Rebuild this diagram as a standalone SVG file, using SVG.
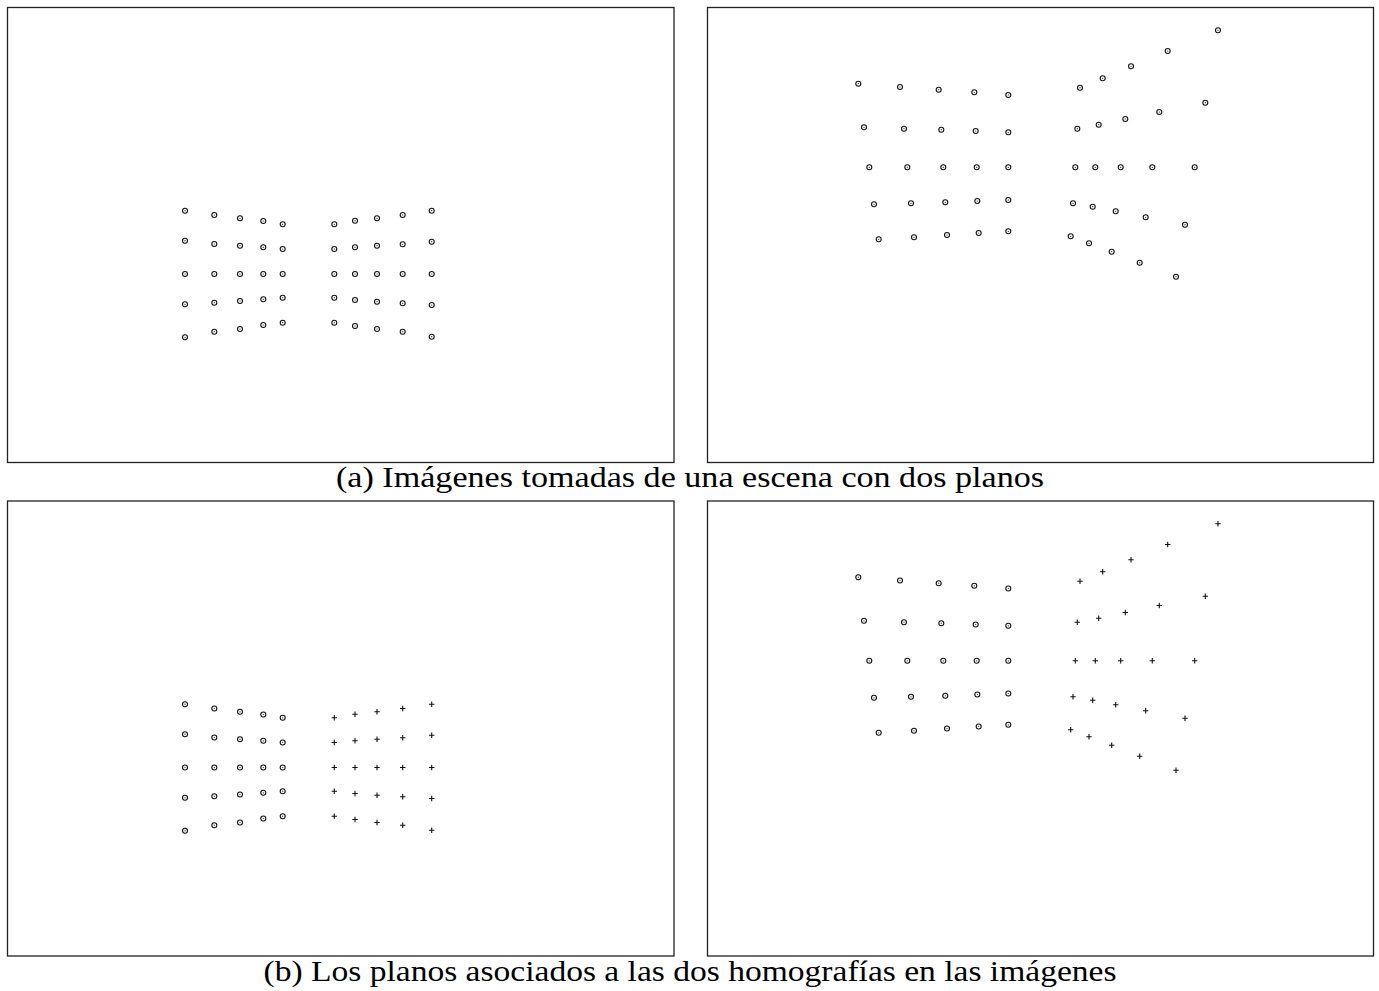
<svg xmlns="http://www.w3.org/2000/svg" xmlns:xlink="http://www.w3.org/1999/xlink" width="1379" height="991" viewBox="0 0 1379 991">
<style>
.frame{fill:none;stroke:#222;stroke-width:1.3}
</style>
<defs>
<g id="c"><circle r="2.5" fill="none" stroke="#111" stroke-width="1.1"/><circle r="0.6" fill="#111"/></g>
<path id="p" d="M-2.7 0H2.7M0 -2.7V2.7" stroke="#111" stroke-width="1.1" fill="none"/>
</defs>
<rect width="1379" height="991" fill="#fff"/>
<g id="panel-a-left">
<rect class="frame" x="7.5" y="7.5" width="666.5" height="455"/>
<g id="a-left-plane1">
<use href="#c" x="185" y="210.7"/><use href="#c" x="214.3" y="215"/><use href="#c" x="240" y="218.3"/><use href="#c" x="263.3" y="221"/><use href="#c" x="282.7" y="224.3"/>
<use href="#c" x="185" y="240.7"/><use href="#c" x="214.3" y="244"/><use href="#c" x="240" y="245.7"/><use href="#c" x="263.3" y="247.3"/><use href="#c" x="282.7" y="249"/>
<use href="#c" x="185" y="274"/><use href="#c" x="214.3" y="274"/><use href="#c" x="240" y="274"/><use href="#c" x="263.3" y="274"/><use href="#c" x="282.7" y="274"/>
<use href="#c" x="185" y="304.3"/><use href="#c" x="214.3" y="302.7"/><use href="#c" x="240" y="301"/><use href="#c" x="263.3" y="299.3"/><use href="#c" x="282.7" y="297.7"/>
<use href="#c" x="185" y="337.3"/><use href="#c" x="214.3" y="331.7"/><use href="#c" x="240" y="329"/><use href="#c" x="263.3" y="325"/><use href="#c" x="282.7" y="322.7"/>
</g>
<g id="a-left-plane2">
<use href="#c" x="334.3" y="224.3"/><use href="#c" x="355" y="220.7"/><use href="#c" x="377" y="218.3"/><use href="#c" x="402.7" y="215"/><use href="#c" x="431.7" y="210.7"/>
<use href="#c" x="334.3" y="249"/><use href="#c" x="355" y="247.3"/><use href="#c" x="377" y="245.7"/><use href="#c" x="402.7" y="244.3"/><use href="#c" x="431.7" y="241.7"/>
<use href="#c" x="334.3" y="274"/><use href="#c" x="355" y="274"/><use href="#c" x="377" y="274"/><use href="#c" x="402.7" y="274"/><use href="#c" x="431.7" y="274"/>
<use href="#c" x="334.3" y="297.7"/><use href="#c" x="355" y="300"/><use href="#c" x="377" y="301.7"/><use href="#c" x="402.7" y="303.3"/><use href="#c" x="431.7" y="305"/>
<use href="#c" x="334.3" y="322.7"/><use href="#c" x="355" y="326"/><use href="#c" x="377" y="329"/><use href="#c" x="402.7" y="331.7"/><use href="#c" x="431.7" y="336.7"/>
</g>
</g>
<g id="panel-a-right">
<rect class="frame" x="707.5" y="7.5" width="666" height="455"/>
<g id="a-right-plane1">
<use href="#c" x="858.3" y="83.7"/><use href="#c" x="900" y="87"/><use href="#c" x="938.7" y="89.7"/><use href="#c" x="974.3" y="92.3"/><use href="#c" x="1008.3" y="95"/>
<use href="#c" x="864" y="127.3"/><use href="#c" x="904" y="128.7"/><use href="#c" x="941.3" y="129.7"/><use href="#c" x="975.7" y="131"/><use href="#c" x="1008.3" y="132.3"/>
<use href="#c" x="869.3" y="167.3"/><use href="#c" x="907.3" y="167.3"/><use href="#c" x="943.3" y="167.3"/><use href="#c" x="976.7" y="167.3"/><use href="#c" x="1008.3" y="167.3"/>
<use href="#c" x="874" y="204.3"/><use href="#c" x="911" y="203.3"/><use href="#c" x="945.3" y="202.3"/><use href="#c" x="977.3" y="201"/><use href="#c" x="1008.3" y="200"/>
<use href="#c" x="878.7" y="239.3"/><use href="#c" x="914" y="237.3"/><use href="#c" x="947" y="235"/><use href="#c" x="978.7" y="233"/><use href="#c" x="1008.3" y="231.3"/>
</g>
<g id="a-right-plane2">
<use href="#c" x="1080" y="87.7"/><use href="#c" x="1102.7" y="78.3"/><use href="#c" x="1131" y="66.3"/><use href="#c" x="1167.7" y="51"/><use href="#c" x="1218" y="30.3"/>
<use href="#c" x="1077.3" y="128.7"/><use href="#c" x="1098.7" y="124.7"/><use href="#c" x="1125.3" y="119"/><use href="#c" x="1159.3" y="112"/><use href="#c" x="1205.3" y="102.7"/>
<use href="#c" x="1075.3" y="167.3"/><use href="#c" x="1095.3" y="167.3"/><use href="#c" x="1120.7" y="167.3"/><use href="#c" x="1152.3" y="167.3"/><use href="#c" x="1194.7" y="167.3"/>
<use href="#c" x="1073" y="203.3"/><use href="#c" x="1092.7" y="206.7"/><use href="#c" x="1115.7" y="211.3"/><use href="#c" x="1145.7" y="217.3"/><use href="#c" x="1185" y="224.7"/>
<use href="#c" x="1070.7" y="236.3"/><use href="#c" x="1089" y="243.3"/><use href="#c" x="1111.7" y="251.7"/><use href="#c" x="1139.7" y="262.7"/><use href="#c" x="1176" y="276.7"/>
</g>
</g>
<text id="caption-a" font-family="'Liberation Serif', 'Times New Roman', serif" font-size="30" fill="#000" x="690" y="487" text-anchor="middle" textLength="708" lengthAdjust="spacingAndGlyphs">(a) Imágenes tomadas de una escena con dos planos</text>
<g id="panel-b-left">
<rect class="frame" x="7.5" y="501" width="666.5" height="455"/>
<g id="b-left-plane1" transform="translate(0,493.5)">
<use href="#c" x="185" y="210.7"/><use href="#c" x="214.3" y="215"/><use href="#c" x="240" y="218.3"/><use href="#c" x="263.3" y="221"/><use href="#c" x="282.7" y="224.3"/>
<use href="#c" x="185" y="240.7"/><use href="#c" x="214.3" y="244"/><use href="#c" x="240" y="245.7"/><use href="#c" x="263.3" y="247.3"/><use href="#c" x="282.7" y="249"/>
<use href="#c" x="185" y="274"/><use href="#c" x="214.3" y="274"/><use href="#c" x="240" y="274"/><use href="#c" x="263.3" y="274"/><use href="#c" x="282.7" y="274"/>
<use href="#c" x="185" y="304.3"/><use href="#c" x="214.3" y="302.7"/><use href="#c" x="240" y="301"/><use href="#c" x="263.3" y="299.3"/><use href="#c" x="282.7" y="297.7"/>
<use href="#c" x="185" y="337.3"/><use href="#c" x="214.3" y="331.7"/><use href="#c" x="240" y="329"/><use href="#c" x="263.3" y="325"/><use href="#c" x="282.7" y="322.7"/>
</g>
<g id="b-left-plane2" transform="translate(0,493.5)">
<use href="#p" x="334.3" y="224.3"/><use href="#p" x="355" y="220.7"/><use href="#p" x="377" y="218.3"/><use href="#p" x="402.7" y="215"/><use href="#p" x="431.7" y="210.7"/>
<use href="#p" x="334.3" y="249"/><use href="#p" x="355" y="247.3"/><use href="#p" x="377" y="245.7"/><use href="#p" x="402.7" y="244.3"/><use href="#p" x="431.7" y="241.7"/>
<use href="#p" x="334.3" y="274"/><use href="#p" x="355" y="274"/><use href="#p" x="377" y="274"/><use href="#p" x="402.7" y="274"/><use href="#p" x="431.7" y="274"/>
<use href="#p" x="334.3" y="297.7"/><use href="#p" x="355" y="300"/><use href="#p" x="377" y="301.7"/><use href="#p" x="402.7" y="303.3"/><use href="#p" x="431.7" y="305"/>
<use href="#p" x="334.3" y="322.7"/><use href="#p" x="355" y="326"/><use href="#p" x="377" y="329"/><use href="#p" x="402.7" y="331.7"/><use href="#p" x="431.7" y="336.7"/>
</g>
</g>
<g id="panel-b-right">
<rect class="frame" x="707.5" y="501" width="666" height="455"/>
<g id="b-right-plane1" transform="translate(0,493.5)">
<use href="#c" x="858.3" y="83.7"/><use href="#c" x="900" y="87"/><use href="#c" x="938.7" y="89.7"/><use href="#c" x="974.3" y="92.3"/><use href="#c" x="1008.3" y="95"/>
<use href="#c" x="864" y="127.3"/><use href="#c" x="904" y="128.7"/><use href="#c" x="941.3" y="129.7"/><use href="#c" x="975.7" y="131"/><use href="#c" x="1008.3" y="132.3"/>
<use href="#c" x="869.3" y="167.3"/><use href="#c" x="907.3" y="167.3"/><use href="#c" x="943.3" y="167.3"/><use href="#c" x="976.7" y="167.3"/><use href="#c" x="1008.3" y="167.3"/>
<use href="#c" x="874" y="204.3"/><use href="#c" x="911" y="203.3"/><use href="#c" x="945.3" y="202.3"/><use href="#c" x="977.3" y="201"/><use href="#c" x="1008.3" y="200"/>
<use href="#c" x="878.7" y="239.3"/><use href="#c" x="914" y="237.3"/><use href="#c" x="947" y="235"/><use href="#c" x="978.7" y="233"/><use href="#c" x="1008.3" y="231.3"/>
</g>
<g id="b-right-plane2" transform="translate(0,493.5)">
<use href="#p" x="1080" y="87.7"/><use href="#p" x="1102.7" y="78.3"/><use href="#p" x="1131" y="66.3"/><use href="#p" x="1167.7" y="51"/><use href="#p" x="1218" y="30.3"/>
<use href="#p" x="1077.3" y="128.7"/><use href="#p" x="1098.7" y="124.7"/><use href="#p" x="1125.3" y="119"/><use href="#p" x="1159.3" y="112"/><use href="#p" x="1205.3" y="102.7"/>
<use href="#p" x="1075.3" y="167.3"/><use href="#p" x="1095.3" y="167.3"/><use href="#p" x="1120.7" y="167.3"/><use href="#p" x="1152.3" y="167.3"/><use href="#p" x="1194.7" y="167.3"/>
<use href="#p" x="1073" y="203.3"/><use href="#p" x="1092.7" y="206.7"/><use href="#p" x="1115.7" y="211.3"/><use href="#p" x="1145.7" y="217.3"/><use href="#p" x="1185" y="224.7"/>
<use href="#p" x="1070.7" y="236.3"/><use href="#p" x="1089" y="243.3"/><use href="#p" x="1111.7" y="251.7"/><use href="#p" x="1139.7" y="262.7"/><use href="#p" x="1176" y="276.7"/>
</g>
</g>
<text id="caption-b" font-family="'Liberation Serif', 'Times New Roman', serif" font-size="30" fill="#000" x="690" y="981" text-anchor="middle" textLength="853" lengthAdjust="spacingAndGlyphs">(b) Los planos asociados a las dos homografías en las imágenes</text>
</svg>
